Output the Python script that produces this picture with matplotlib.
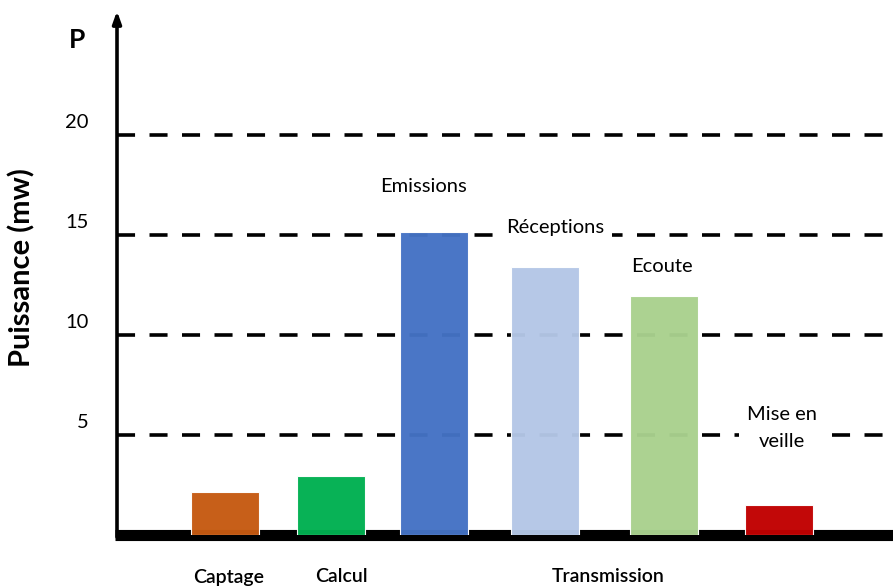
import matplotlib.pyplot as plt

plt.rcParams['font.family'] = ['Lato', 'DejaVu Sans']

# données
bar_labels = ['Emissions', 'Réceptions', 'Ecoute', 'Mise en\nveille']
categories = ['Captage', 'Calcul', 'Transmission']
values = [2.15, 2.95, 15.15, 13.4, 11.95, 1.5]
colors = ['#C55A11', '#00B050', '#4472C4', '#B4C7E7', '#A9D18E', '#C00000']
y_ticks = [5, 10, 15, 20]

# positions (px depuis l'axe)
xpos = [108, 214, 317, 428, 547, 662]
width = 68

W, H = 893, 588
fig = plt.figure(figsize=(W / 100, H / 100), dpi=100)
ax = fig.add_axes([117 / W, 1 - 535 / H, (W - 117) / W, 520 / H])
ax.set_xlim(0, W - 117)
ax.set_ylim(0, 26)
ax.axis('off')

# lignes pointillées
for t in y_ticks:
    ax.axhline(t, color='black', lw=2.6, ls=(0, (5, 4)), zorder=1)
    ax.text(-28, t + 0.6, str(t), ha='right', va='center', fontsize=14.5)

# ligne de base épaisse
ax.plot([-2, W - 117], [0, 0], color='black', lw=8, solid_capstyle='butt',
        zorder=2, clip_on=False)

# axe vertical avec flèche
ax.annotate('', xy=(0, 26.2), xytext=(0, -0.1),
            arrowprops=dict(arrowstyle='-|>,head_length=0.7,head_width=0.25',
                            lw=2.6, color='black', shrinkA=0, shrinkB=0),
            annotation_clip=False, zorder=3)

# barres
for x, v, c in zip(xpos, values, colors):
    ax.bar(x, v, width=width, color=c, edgecolor='white', linewidth=0.8,
           alpha=0.97, zorder=3)

# étiquettes au-dessus des barres
label_pos = [(306, 17.4), (438, 15.4), (545, 13.4), (665, 5.35)]
for (x, y), lab in zip(label_pos, bar_labels):
    ax.text(x, y, lab, ha='center', va='center', fontsize=14.5,
            linespacing=1.65, zorder=4,
            bbox=dict(facecolor='white', edgecolor='none', pad=6))

# catégories sous l'axe
cat_pos = [112, 224, 491]
for x, lab in zip(cat_pos, categories):
    ax.text(x, -2.1, lab, ha='center', va='center', fontsize=14,
            fontweight='semibold', clip_on=False)

fig.text(77 / W, 1 - 40 / H, 'P', ha='center', va='center', fontsize=19,
         fontweight='bold')
fig.text(22 / W, 1 - 268 / H, 'Puissance (mw)', ha='center', va='center',
         fontsize=21, fontweight='bold', rotation=90)

fig.savefig('out.png', dpi=100)
